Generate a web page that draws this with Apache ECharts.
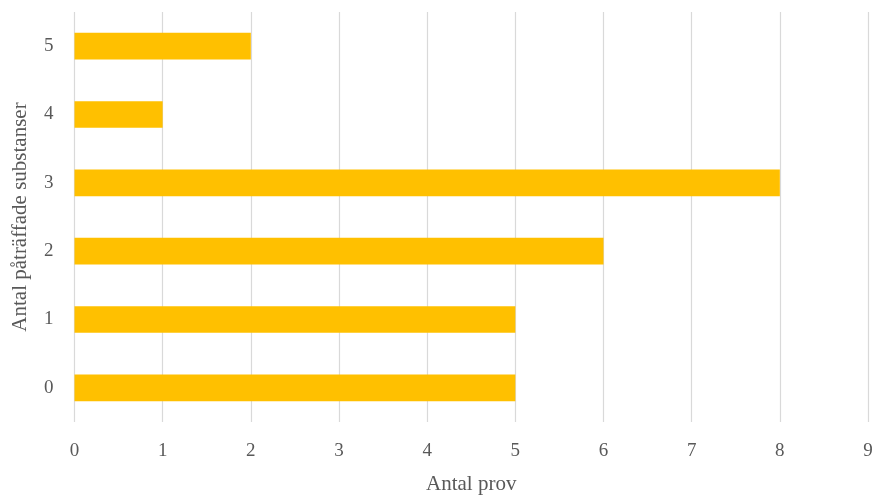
<!DOCTYPE html>
<html><head><meta charset="utf-8">
<script src="https://cdn.jsdelivr.net/npm/echarts@6/dist/echarts.min.js"></script>
<style>html,body{margin:0;padding:0;background:#fff}#c{width:874px;height:497px}</style>
</head><body><div id="c"></div>
<script>
const categories = ['0','1','2','3','4','5'];
const values = [5,5,6,8,1,2];
const xTicks = [0,1,2,3,4,5,6,7,8,9];
const font = 'Liberation Serif';
const chart = echarts.init(document.getElementById('c'));
chart.setOption({
  animation:false,
  grid:{left:74.5,right:6,top:12,bottom:75,containLabel:false,outerBoundsMode:'none'},
  xAxis:{type:'value',min:xTicks[0],max:xTicks[xTicks.length-1],interval:1,
    name:'Antal prov',nameLocation:'middle',nameGap:52,
    nameTextStyle:{fontFamily:font,fontSize:21,color:'#595959'},
    axisLine:{show:false},axisTick:{show:false},
    axisLabel:{fontFamily:font,fontSize:19,color:'#595959',margin:20},
    splitLine:{show:true,lineStyle:{color:'#d9d9d9',width:1.2}}},
  yAxis:{type:'category',data:categories,
    name:'Antal påträffade substanser',nameLocation:'middle',nameGap:44,nameRotate:90,
    nameTextStyle:{fontFamily:font,fontSize:21,color:'#595959'},
    axisLine:{show:false},axisTick:{show:false},
    axisLabel:{fontFamily:font,fontSize:19,color:'#595959',margin:21},
    splitLine:{show:false}},
  series:[{type:'bar',data:values,barWidth:'39%',itemStyle:{color:'#FFC000'}}]
});
</script></body></html>
